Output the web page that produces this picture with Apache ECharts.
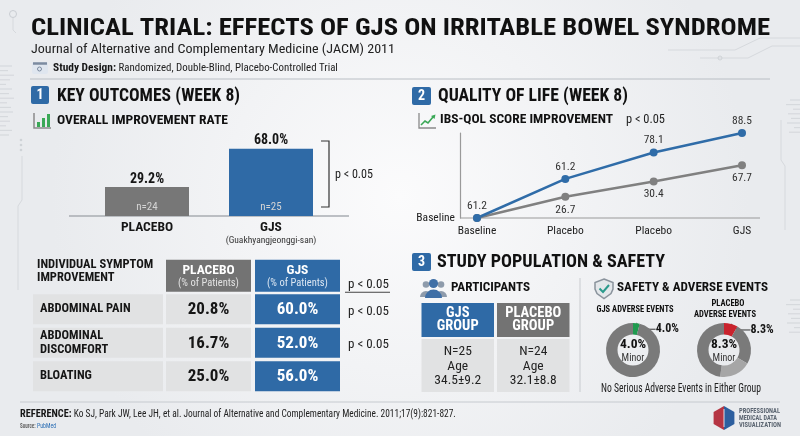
<!DOCTYPE html>
<html>
<head>
<meta charset="utf-8">
<script src="https://cdn.jsdelivr.net/npm/echarts@6.0.0/dist/echarts.min.js"></script>
<style>html,body{margin:0;padding:0;}#main{width:800px;height:436px;}</style>
</head>
<body>
<div id="main"></div>
<script>
// ---- data ----
var outcomeGroups = ['PLACEBO', 'GJS'];
var outcomeSub = ['', '(Guakhyangjeonggi-san)'];
var outcomeRates = [29.2, 68.0];
var outcomeN = ['n=24', 'n=25'];

var symptomHeader = 'INDIVIDUAL SYMPTOM\nIMPROVEMENT';
var tableColumns = ['PLACEBO', 'GJS'];
var tableColumnSub = '(% of Patients)';
var symptomHeaderP = 'p < 0.05';
var symptoms = ['ABDOMINAL PAIN', 'ABDOMINAL\nDISCOMFORT', 'BLOATING'];
var symptomPlacebo = [20.8, 16.7, 25.0];
var symptomGjs = [60.0, 52.0, 56.0];
var symptomP = ['p < 0.05', 'p < 0.05', ''];

var qolCategories = ['Baseline', 'Placebo', 'Placebo', 'GJS'];
var qolGjsPlot = [0, 46, 77, 100];
var qolPlaceboPlot = [0, 25, 43, 62];
var qolGjsLabels = ['61.2', '61.2', '78.1', '88.5'];
var qolPlaceboLabels = ['', '26.7', '30.4', '67.7'];

var groups = ['GJS\nGROUP', 'PLACEBO\nGROUP'];
var groupN = [25, 24];
var groupAge = ['34.5±9.2', '32.1±8.8'];

var gjsAE = [4.0, 96.0];
var placeboAE = [8.3, 25.0, 19.0, 47.7];

// ---- style ----
var FONT = "'Roboto Condensed', 'Liberation Sans Narrow', 'DejaVu Sans Condensed', Roboto, sans-serif";
var BLUE = '#2f6aa6', CELL = '#e1e2e3', INK = '#161616';
var OUTCOME_COLORS = ['#777777', BLUE];
var GROUP_COLORS = [BLUE, '#737373'];
var GJS_AE_COLORS = ['#1f9a4f', '#7a7a7a'];
var PLACEBO_AE_COLORS = ['#c9232d', '#7a7a7a', '#a6a6a6', '#7a7a7a'];

var ctx = document.createElement('canvas').getContext('2d');
function measure(str, size, weight, family) {
    ctx.font = (weight || 'normal') + ' ' + size + 'px ' + (family || FONT);
    return Math.max.apply(null, String(str).split('\n').map(function (s) { return ctx.measureText(s).width; }));
}
var probe = 'ABDOMINAL DISCOMFORT 0123';
// squeeze text when no narrow face is installed
var SX = measure(probe, 20, 'bold') < 0.92 * measure(probe, 20, 'bold', 'Roboto') ? 1 : 0.84;

function txt(x, y, str, size, weight, color, align, fitW, lh) {
    return {
        type: 'text', x: x, y: y, silent: true,
        scaleX: fitW ? fitW / measure(str, size, weight) : SX,
        style: {
            text: str, fontSize: size, fontWeight: weight || 'normal', fontFamily: FONT,
            fill: color || INK, align: align || 'left', verticalAlign: 'middle',
            lineHeight: lh || Math.round(size * 1.2)
        }
    };
}
function richTxt(x, y, head, rest, hSize, rSize, fitW, hColor, rColor) {
    var w = measure(head + ' ', hSize, 'bold') + measure(rest, rSize);
    return {
        type: 'text', x: x, y: y, silent: true, scaleX: fitW / w,
        style: {
            text: '{h|' + head + '} {r|' + rest + '}', fontFamily: FONT, fontSize: rSize,
            align: 'left', verticalAlign: 'middle',
            rich: {
                h: { fontSize: hSize, fontWeight: 'bold', fontFamily: FONT, fill: hColor || INK },
                r: { fontSize: rSize, fontFamily: FONT, fill: rColor || '#222' }
            }
        }
    };
}
function box(x, y, w, h, fill, r) {
    return { type: 'rect', silent: true, shape: { x: x, y: y, width: w, height: h, r: r || 0 }, style: { fill: fill } };
}
function line(points, stroke, lw) {
    return { type: 'polyline', silent: true, shape: { points: points }, style: { stroke: stroke, lineWidth: lw || 1, fill: null } };
}
function poly(points, fill, stroke, lw) {
    return { type: 'polygon', silent: true, shape: { points: points }, style: { fill: fill, stroke: stroke || null, lineWidth: lw || 1 } };
}
function dot(cx, cy, r, fill, stroke) {
    return { type: 'circle', silent: true, shape: { cx: cx, cy: cy, r: r }, style: { fill: fill || null, stroke: stroke || null, lineWidth: 1 } };
}
function halfDisc(cx, cy, r, fill) {
    return { type: 'sector', silent: true, shape: { cx: cx, cy: cy, r: r, startAngle: Math.PI, endAngle: Math.PI * 2 }, style: { fill: fill } };
}

// ---- decoration, headings, icons ----
var deco = [];
var faint = '#d6d9dd';
[12, 8, 14, 10, 6, 12, 9, 14, 7, 11, 13, 8, 10, 6, 12, 9].forEach(function (len, i) {
    deco.push(line([[0, 66 + i * 4.6], [len, 66 + i * 4.6]], faint, 1.2));
});
[10, 14, 7, 12, 9, 13, 6, 11].forEach(function (len, i) {
    deco.push(line([[800 - len, 100 + i * 4.6], [800, 100 + i * 4.6]], faint, 1.2));
    deco.push(line([[800 - len, 300 + i * 4.6], [800, 300 + i * 4.6]], faint, 1.2));
});
deco.push(dot(13, 14, 3.5, null, '#c9cdd2'));
deco.push(line([[13, 18], [13, 30], [16, 33]], faint, 1));
deco.push(dot(21, 140, 1.3, '#cfd3d7'), dot(21, 145, 1.3, '#cfd3d7'), dot(21, 150, 1.3, '#cfd3d7'));
deco.push(line([[22, 156], [22, 200], [18, 206], [18, 290]], faint, 1));
deco.push(line([[668, 50], [735, 50], [760, 38], [800, 38]], faint, 1));
deco.push(line([[700, 58], [748, 58], [772, 46], [800, 46]], faint, 1));
deco.push(dot(720, 58, 2, null, '#cfd3d7'));
deco.push(line([[781, 120], [781, 160], [785, 166], [785, 230]], faint, 1));

deco.push(txt(31, 29, 'CLINICAL TRIAL: EFFECTS OF GJS ON IRRITABLE BOWEL SYNDROME', 24, 'bold', '#111', 'left', 739));
deco.push(txt(31, 50, 'Journal of Alternative and Complementary Medicine (JACM) 2011', 13.5, 'normal', '#222', 'left', 364));
deco.push(box(32, 62, 16, 12, '#dfe6ef', 2), line([[33, 63.5], [47, 63.5]], '#7c8ba0', 2.5), dot(39.5, 69, 2, null, '#7c8ba0'));
deco.push(richTxt(53, 68.5, 'Study Design:', 'Randomized, Double-Blind, Placebo-Controlled Trial', 11, 10.5, 285));
deco.push(line([[30, 79], [770, 79]], '#b9bec4', 1));

// section 1
deco.push(box(31, 86, 18, 18, BLUE, 2), txt(40, 95.5, '1', 14, 'bold', '#fff', 'center'));
deco.push(txt(57, 96, 'KEY OUTCOMES (WEEK 8)', 18, 'bold', '#111', 'left', 183));
deco.push(line([[34, 113], [34, 128], [51, 128]], '#8a8a8a', 1.5));
deco.push(box(37, 122, 3, 5, '#3aa856'), box(42, 118, 3, 9, '#3aa856'), box(47, 114, 3, 13, '#3aa856'));
deco.push(txt(57, 121, 'OVERALL IMPROVEMENT RATE', 13.5, 'bold', '#111', 'left', 171));
deco.push(line([[69, 216], [349, 216]], '#a9adb2', 1.5));
deco.push(line([[321, 141], [329, 141], [329, 207], [321, 207]], '#333', 1.2));
deco.push(txt(335, 175, 'p < 0.05', 13, 'normal', '#222', 'left', 38));

// section 2
deco.push(box(412, 87, 19, 18, BLUE, 2), txt(421.5, 96.5, '2', 14, 'bold', '#fff', 'center'));
deco.push(txt(438, 96, 'QUALITY OF LIFE (WEEK 8)', 18, 'bold', '#111', 'left', 190));
deco.push(line([[419, 113], [419, 128], [436, 128]], '#8a8a8a', 1.3));
deco.push(line([[421, 125], [425, 121], [428, 123], [433, 117]], '#3aa856', 1.6));
deco.push(poly([[431, 116], [435.5, 114.5], [434.5, 119]], '#3aa856'));
deco.push(txt(440, 120, 'IBS-QOL SCORE IMPROVEMENT', 13.5, 'bold', '#111', 'left', 173));
deco.push(txt(626, 119.5, 'p < 0.05', 12.5, 'normal', '#222', 'left', 39));
deco.push(line([[460, 218], [760, 218]], '#9a9a9a', 1.2));

// section 3
deco.push(box(412, 253, 19, 18, BLUE, 2), txt(421.5, 262.5, '3', 14, 'bold', '#fff', 'center'));
deco.push(txt(437, 262, 'STUDY POPULATION & SAFETY', 18, 'bold', '#111', 'left', 228));
deco.push(dot(426, 284.5, 3.3, '#8e9bab'), dot(441, 284.5, 3.3, '#8e9bab'));
deco.push(halfDisc(426, 297, 6, '#8e9bab'), halfDisc(441, 297, 6, '#8e9bab'));
deco.push(dot(433.5, 283.5, 4.6, '#3f6fa6'), halfDisc(433.5, 298, 8.5, '#3f6fa6'));
deco.push(txt(451, 288, 'PARTICIPANTS', 13.5, 'bold', '#111', 'left', 79));
deco.push(line([[580, 278], [580, 392]], '#c8cbcf', 1));
deco.push(poly([[604, 279], [613, 282.5], [613, 289], [611, 293.5], [604, 298.5], [597, 293.5], [595, 289], [595, 282.5]], '#e3e7ea', '#8a939c', 1.5));
deco.push(line([[599.5, 288.5], [603, 292], [609, 285]], '#2b9a8c', 2));
deco.push(txt(617, 288, 'SAFETY & ADVERSE EVENTS', 13.5, 'bold', '#111', 'left', 151));
deco.push(txt(635, 310, 'GJS ADVERSE EVENTS', 9.5, 'bold', '#111', 'center', 77));
deco.push(txt(728, 304, 'PLACEBO', 9.5, 'bold', '#111', 'center', 33));
deco.push(txt(725, 315, 'ADVERSE EVENTS', 9.5, 'bold', '#111', 'center', 62));
deco.push(txt(633, 345, gjsAE[0].toFixed(1) + '%', 13.5, 'bold', '#111', 'center'));
deco.push(txt(633, 358, 'Minor', 10, 'normal', '#333', 'center'));
deco.push(txt(724, 345, placeboAE[0].toFixed(1) + '%', 13.5, 'bold', '#111', 'center'));
deco.push(txt(724, 358, 'Minor', 10, 'normal', '#333', 'center'));
deco.push(txt(681, 389, 'No Serious Adverse Events in Either Group', 12, 'normal', '#222', 'center', 160));

// footer
deco.push(line([[20, 402], [780, 402]], '#c6cacf', 1));
deco.push(richTxt(20, 414.5, 'REFERENCE:', 'Ko SJ, Park JW, Lee JH, et al. Journal of Alternative and Complementary Medicine. 2011;17(9):821-827.', 11.5, 10.5, 436));
deco.push(richTxt(20, 426, 'Source:', 'PubMed', 6.5, 7.5, 36, '#666', '#2d6fb5'));
deco.push(poly([[724, 406], [713.6, 412], [713.6, 424], [724, 430]], '#b53543'));
deco.push(poly([[724, 406], [734.4, 412], [734.4, 424], [724, 430]], '#2d5f9f'));
deco.push(line([[724, 409], [724, 427]], 'rgba(255,255,255,0.8)', 1));
deco.push(txt(739, 411, 'PROFESSIONAL', 6.5, 'bold', '#5b6571', 'left', 41));
deco.push(txt(739, 418, 'MEDICAL DATA', 6.5, 'bold', '#5b6571', 'left', 38));
deco.push(txt(739, 425, 'VISUALIZATION', 6.5, 'bold', '#5b6571', 'left', 42));

// ---- table cells (custom series) ----
var TABLE_COLS = [{ x: 0, w: 130 }, { x: 133, w: 85 }, { x: 222, w: 85 }];
var TABLE_P_X = 315;

function symptomRow(params, api) {
    var r = api.value(1);
    var cy = api.coord([0, r])[1];
    var band = api.size([0, 1])[1];
    var gx = params.coordSys.x;
    var c1 = TABLE_COLS[1], c2 = TABLE_COLS[2];
    var kids = [];
    if (r === 0) {
        var hh = band - 1.5, ht = cy - hh / 2;
        kids.push(txt(gx + 4, cy - 4, symptomHeader, 12.5, 'bold', INK, 'left', null, 13));
        kids.push(box(gx + c1.x, ht, c1.w, hh, '#737373'));
        kids.push(box(gx + c2.x, ht, c2.w, hh, BLUE));
        kids.push(txt(gx + c1.x + c1.w / 2, cy - 5, tableColumns[0], 13.5, 'bold', '#fff', 'center'));
        kids.push(txt(gx + c1.x + c1.w / 2, cy + 8, tableColumnSub, 10.5, 'normal', '#e2e2e2', 'center'));
        kids.push(txt(gx + c2.x + c2.w / 2, cy - 5, tableColumns[1], 13.5, 'bold', '#fff', 'center'));
        kids.push(txt(gx + c2.x + c2.w / 2, cy + 8, tableColumnSub, 10.5, 'normal', '#dbe6f2', 'center'));
        kids.push(txt(gx + TABLE_P_X, cy + 9, symptomHeaderP, 13, 'normal', '#222', 'left'));
        kids.push(line([[gx + TABLE_P_X - 3, cy + 16.5], [gx + TABLE_P_X + 42, cy + 16.5]], '#444', 1));
    } else {
        var i = r - 1, h = band - 3.5, t = cy - h / 2;
        kids.push(box(gx, t, TABLE_COLS[0].w, h, CELL));
        kids.push(box(gx + c1.x, t, c1.w, h, CELL));
        kids.push(box(gx + c2.x, t, c2.w, h, BLUE));
        kids.push(txt(gx + 7, cy, symptoms[i], 12.5, 'bold', INK, 'left', null, 14));
        kids.push(txt(gx + c1.x + c1.w / 2, cy + 0.5, symptomPlacebo[i].toFixed(1) + '%', 17, 'bold', INK, 'center'));
        kids.push(txt(gx + c2.x + c2.w / 2, cy + 0.5, symptomGjs[i].toFixed(1) + '%', 17, 'bold', '#fff', 'center'));
        if (symptomP[i]) kids.push(txt(gx + TABLE_P_X, cy + 2, symptomP[i], 13, 'normal', '#222', 'left'));
    }
    return { type: 'group', children: kids };
}

function groupCell(params, api) {
    var c = api.value(0);
    var cx = api.coord([c, 0])[0];
    var w = api.size([1, 0])[0] - 3;
    var sys = params.coordSys;
    var hh = 34, bt = sys.y + 36, bh = sys.y + sys.height - bt;
    return {
        type: 'group', children: [
            box(cx - w / 2, sys.y, w, hh, GROUP_COLORS[c]),
            txt(cx, sys.y + hh / 2, groups[c], 14.5, 'bold', '#fff', 'center', null, 13.5),
            box(cx - w / 2, bt, w, bh, CELL),
            txt(cx, bt + bh / 2 + 1, 'N=' + groupN[c] + '\nAge\n' + groupAge[c], 13.5, 'normal', '#222', 'center', null, 14.5)
        ]
    };
}

function pieItems(values, colors) {
    return values.map(function (v, i) {
        return {
            value: v,
            itemStyle: { color: colors[i] },
            label: {
                show: i === 0, position: 'outside', fontSize: 12, fontWeight: 'bold', color: INK, fontFamily: FONT,
                formatter: function (p) { return p.value.toFixed(1) + '%'; }
            },
            labelLine: { show: i === 0, length: 2, length2: 12, lineStyle: { color: '#333', width: 1 } }
        };
    });
}
// nudge the slice label down level with the upper ring, like the original
function pieLabelLayout(p) {
    return { x: p.labelRect.x + 2, y: p.labelRect.y + p.labelRect.height / 2 + 8, align: 'left', verticalAlign: 'middle' };
}

var lineLabel = { fontSize: 11.5, color: '#333', fontFamily: FONT };

var myChart = echarts.init(document.getElementById('main'));
var option = {
    animation: false,
    backgroundColor: {
        type: 'radial', x: 0.5, y: 0.45, r: 0.8,
        colorStops: [{ offset: 0, color: '#fbfbfc' }, { offset: 1, color: '#e9ebee' }]
    },
    grid: [
        { left: 85, top: 117, width: 248, height: 99, outerBoundsMode: 'none' },
        { left: 477, top: 133, width: 265, height: 85, outerBoundsMode: 'none' },
        { left: 33, top: 259, width: 360, height: 134, outerBoundsMode: 'none' },
        { left: 420, top: 303, width: 151, height: 89, outerBoundsMode: 'none' }
    ],
    xAxis: [
        {
            gridIndex: 0, type: 'category', data: outcomeGroups,
            axisLine: { show: false }, axisTick: { show: false },
            axisLabel: {
                margin: 4, interval: 0,
                formatter: function (v, i) { return '{n|' + v + '}' + (outcomeSub[i] ? '\n{s|' + outcomeSub[i] + '}' : ''); },
                rich: {
                    n: { fontSize: 13.5, fontWeight: 'bold', color: INK, fontFamily: FONT, lineHeight: 15 },
                    s: { fontSize: 9.5, color: '#333', fontFamily: FONT, lineHeight: 11 }
                }
            }
        },
        {
            gridIndex: 1, type: 'category', boundaryGap: false, data: qolCategories,
            axisLine: { show: false }, axisTick: { show: false },
            axisLabel: { margin: 7, interval: 0, fontSize: 11.5, color: '#222', fontFamily: FONT }
        },
        { gridIndex: 2, type: 'value', min: 0, max: 1, show: false },
        { gridIndex: 3, type: 'category', data: groups, show: false }
    ],
    yAxis: [
        { gridIndex: 0, type: 'value', min: 0, max: 100, show: false },
        {
            gridIndex: 1, type: 'value', min: 0, max: 100, interval: 100, offset: 17,
            axisLine: { show: true, lineStyle: { color: '#9a9a9a', width: 1.2 } },
            axisTick: { show: false }, splitLine: { show: false },
            axisLabel: {
                margin: 5, fontSize: 11.5, color: '#222', fontFamily: FONT,
                formatter: function (v) { return v === 0 ? 'Baseline' : ''; }
            }
        },
        { gridIndex: 2, type: 'category', data: ['header'].concat(symptoms), inverse: true, show: false },
        { gridIndex: 3, type: 'value', min: 0, max: 1, show: false }
    ],
    series: [
        {
            type: 'bar', xAxisIndex: 0, yAxisIndex: 0, barWidth: 84, silent: true,
            data: outcomeRates.map(function (v, i) { return { value: v, itemStyle: { color: OUTCOME_COLORS[i] } }; }),
            label: {
                show: true, position: 'top', distance: 1, fontSize: 14, fontWeight: 'bold', color: INK, fontFamily: FONT,
                formatter: function (p) { return p.value.toFixed(1) + '%'; }
            }
        },
        {
            type: 'bar', xAxisIndex: 0, yAxisIndex: 0, barWidth: 84, barGap: '-100%', silent: true,
            data: outcomeRates, itemStyle: { color: 'rgba(0,0,0,0)' },
            label: {
                show: true, position: 'insideBottom', distance: 3, fontSize: 11, color: '#d4d4d4', fontFamily: FONT,
                formatter: function (p) { return outcomeN[p.dataIndex]; }
            }
        },
        {
            name: 'Placebo', type: 'line', xAxisIndex: 1, yAxisIndex: 1, data: qolPlaceboPlot, silent: true,
            color: '#808080', lineStyle: { width: 2.5 }, symbol: 'circle', symbolSize: 8,
            label: Object.assign({ show: true, position: 'bottom', distance: 3, formatter: function (p) { return qolPlaceboLabels[p.dataIndex]; } }, lineLabel)
        },
        {
            name: 'GJS', type: 'line', xAxisIndex: 1, yAxisIndex: 1, data: qolGjsPlot, silent: true,
            color: '#2f6ca8', lineStyle: { width: 2.5 }, symbol: 'circle', symbolSize: 8,
            label: Object.assign({ show: true, position: 'top', distance: 2, formatter: function (p) { return qolGjsLabels[p.dataIndex]; } }, lineLabel)
        },
        {
            type: 'custom', xAxisIndex: 2, yAxisIndex: 2, silent: true, renderItem: symptomRow,
            data: ['header'].concat(symptoms).map(function (s, i) { return [0, i]; })
        },
        {
            type: 'custom', xAxisIndex: 3, yAxisIndex: 3, silent: true, renderItem: groupCell,
            data: groups.map(function (g, i) { return [i, 0]; })
        },
        {
            type: 'pie', center: [633, 350], radius: [15.5, 27], startAngle: 90, silent: true,
            avoidLabelOverlap: false, labelLayout: pieLabelLayout, data: pieItems(gjsAE, GJS_AE_COLORS)
        },
        {
            type: 'pie', center: [724, 350], radius: [15.5, 27], startAngle: 90, silent: true,
            avoidLabelOverlap: false, labelLayout: pieLabelLayout, data: pieItems(placeboAE, PLACEBO_AE_COLORS)
        }
    ],
    graphic: { elements: deco }
};
myChart.setOption(option);
</script>
</body>
</html>
